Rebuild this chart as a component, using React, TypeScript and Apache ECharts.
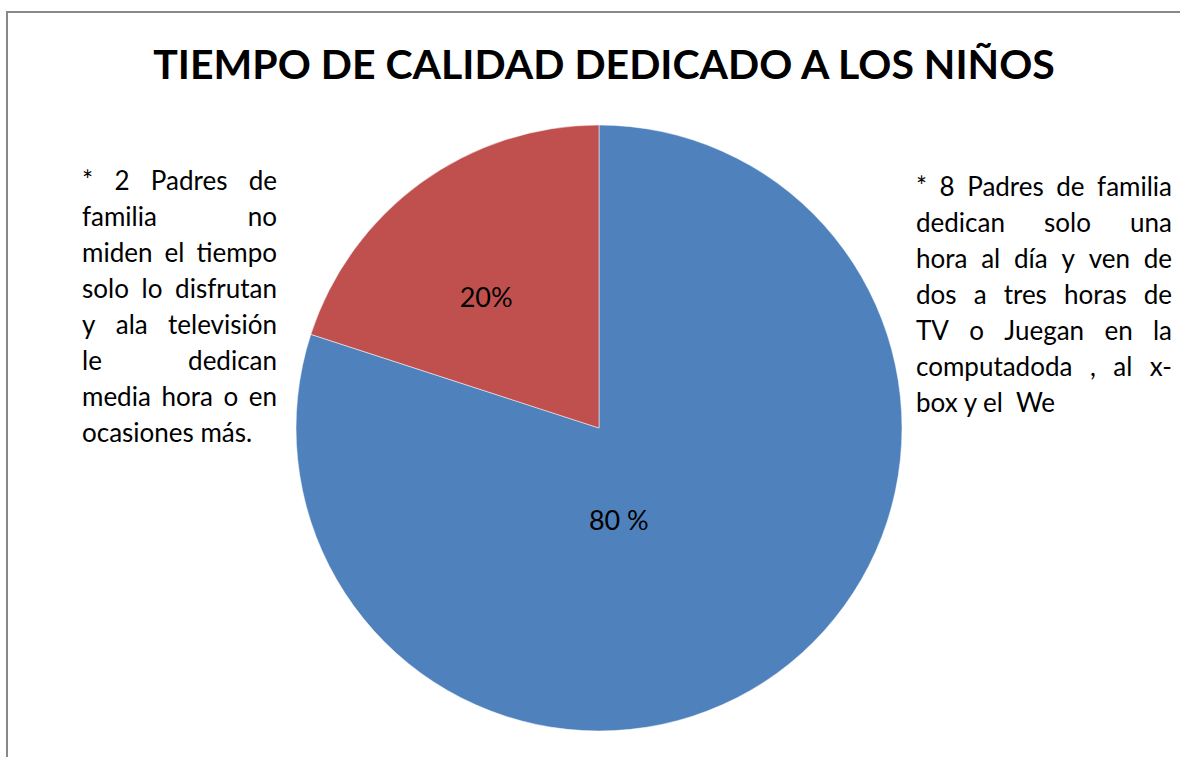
import React, { useEffect, useRef } from "react";
import * as echarts from "echarts";

const titleText = "TIEMPO DE CALIDAD DEDICADO A LOS NIÑOS";
const categories = ["8 Padres de familia", "2 Padres de familia"];
const values = [80, 20];
const pctLabels = ["80 %", "20%"];
const colors = ["#4F81BD", "#C0504D"];
const leftNote = [
  "* 2  Padres de",
  "familia no",
  "miden el tiempo",
  "solo lo disfrutan",
  "y ala televisión",
  "le dedican",
  "media hora o en",
  "ocasiones más.",
];
const rightNote = [
  "* 8  Padres de familia",
  "dedican solo una",
  "hora al día y ven de",
  "dos a tres horas de",
  "TV  o Juegan en la",
  "computadoda , al x-",
  "box y el  We",
];

const FONT = "Lato";
const NOTE_SIZE = 26;

function measure(ctx: CanvasRenderingContext2D, s: string) {
  return ctx.measureText(s).width;
}

function justifiedBlock(lines: string[], x0: number, x1: number, y0: number, dy: number) {
  const canvas = document.createElement("canvas");
  const ctx = canvas.getContext("2d") as CanvasRenderingContext2D;
  ctx.font = `${NOTE_SIZE}px ${FONT}`;
  const els: any[] = [];
  lines.forEach((line, i) => {
    const y = y0 + i * dy;
    const words = line.split(/\s+/);
    const last = i === lines.length - 1;
    if (last || words.length === 1) {
      els.push({
        type: "text",
        x: x0,
        y,
        style: { text: line, font: `${NOTE_SIZE}px ${FONT}`, fill: "#000", textAlign: "left", textVerticalAlign: "middle" },
      });
      return;
    }
    const widths = words.map((w) => measure(ctx, w));
    const total = widths.reduce((a, b) => a + b, 0);
    const gap = (x1 - x0 - total) / (words.length - 1);
    let x = x0;
    words.forEach((w, j) => {
      els.push({
        type: "text",
        x,
        y,
        style: { text: w, font: `${NOTE_SIZE}px ${FONT}`, fill: "#000", textAlign: "left", textVerticalAlign: "middle" },
      });
      x += widths[j] + gap;
    });
  });
  return els;
}

const labelOffsets = [
  [-71, -33],
  [-22, -7],
];

export default function App() {
  const ref = useRef<HTMLDivElement>(null);
  useEffect(() => {
    if (!ref.current) return;
    const chart = echarts.init(ref.current, undefined, { renderer: "svg" });
    const option: any = {
      animation: false,
      backgroundColor: "#fff",
      title: {
        text: titleText,
        left: 599,
        top: 38,
        textAlign: "center",
        textStyle: { fontFamily: FONT, fontWeight: "bold", fontSize: 41, color: "#000" },
      },
      series: [
        {
          type: "pie",
          center: [599, 428],
          radius: 303,
          startAngle: 90,
          clockwise: true,
          data: categories.map((c, i) => ({
            name: c,
            value: values[i],
            itemStyle: { color: colors[i] },
            label: { offset: labelOffsets[i] },
          })),
          itemStyle: { borderColor: "#fff", borderWidth: 0.5 },
          label: {
            show: true,
            position: "inside",
            fontFamily: FONT,
            fontSize: 27,
            color: "#000",
            formatter: (p: any) => pctLabels[p.dataIndex],
          },
          labelLine: { show: false },
          emphasis: { disabled: true },
        },
      ],
      graphic: [
        { type: "line", shape: { x1: 7, y1: 12, x2: 7, y2: 757 }, style: { stroke: "#898989", lineWidth: 2 } },
        { type: "line", shape: { x1: 6, y1: 12, x2: 1180, y2: 12 }, style: { stroke: "#898989", lineWidth: 2 } },
        ...justifiedBlock(leftNote, 82, 277, 180, 36),
        ...justifiedBlock(rightNote, 916, 1172, 186, 36),
      ],
    };
    chart.setOption(option);
    return () => chart.dispose();
  }, []);
  return <div ref={ref} style={{ position: "absolute", left: 0, top: 0, width: 1180, height: 757 }} />;
}
